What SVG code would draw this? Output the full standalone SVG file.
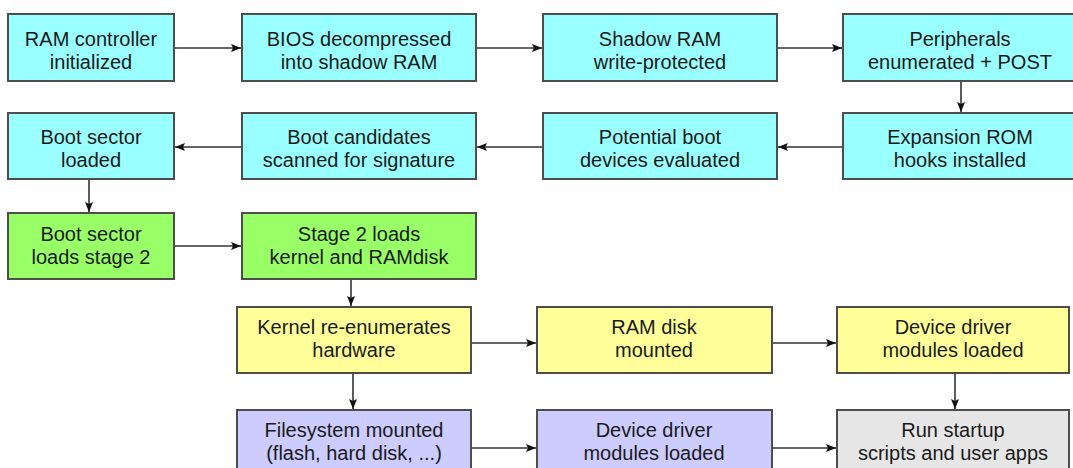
<svg xmlns="http://www.w3.org/2000/svg" width="1073" height="468" viewBox="0 0 1073 468">
<defs>
<marker id="ah" markerWidth="10" markerHeight="8" refX="10" refY="4" orient="auto" markerUnits="userSpaceOnUse">
<path d="M0,0 L10,4 L0,8 L2,4 Z" fill="#111"/>
</marker>
<style>
.box{stroke:#4d4d4d;stroke-width:2}
.c{fill:#99ffff}.g{fill:#99ff66}.y{fill:#ffff99}.l{fill:#ccccff}.k{fill:#e6e6e6}
text{font-family:"Liberation Sans",Arial,sans-serif;font-size:20px;fill:#1a1a1a;text-anchor:middle}
.con line{stroke:#333;stroke-width:1.6;marker-end:url(#ah)}
</style>
</defs>
<rect width="1073" height="468" fill="#fff"/>
<g id="n1"><rect class="box c" x="8" y="14" width="166" height="67"/><text x="91" y="46">RAM controller</text><text x="91" y="69">initialized</text></g>
<g id="n2"><rect class="box c" x="242" y="14" width="234" height="67"/><text x="359" y="46">BIOS decompressed</text><text x="359" y="69">into shadow RAM</text></g>
<g id="n3"><rect class="box c" x="543" y="14" width="234" height="67"/><text x="660" y="46">Shadow RAM</text><text x="660" y="69">write-protected</text></g>
<g id="n4"><rect class="box c" x="843" y="14" width="234" height="67"/><text x="960" y="46">Peripherals</text><text x="960" y="69">enumerated + POST</text></g>
<g id="n5"><rect class="box c" x="843" y="113" width="234" height="66"/><text x="960" y="144">Expansion ROM</text><text x="960" y="167">hooks installed</text></g>
<g id="n6"><rect class="box c" x="543" y="113" width="234" height="66"/><text x="660" y="144">Potential boot</text><text x="660" y="167">devices evaluated</text></g>
<g id="n7"><rect class="box c" x="242" y="113" width="234" height="66"/><text x="359" y="144">Boot candidates</text><text x="359" y="167">scanned for signature</text></g>
<g id="n8"><rect class="box c" x="8" y="113" width="166" height="66"/><text x="91" y="144">Boot sector</text><text x="91" y="167">loaded</text></g>
<g id="n9"><rect class="box g" x="8" y="213" width="166" height="66"/><text x="91" y="241">Boot sector</text><text x="91" y="264">loads stage 2</text></g>
<g id="n10"><rect class="box g" x="242" y="213" width="234" height="66"/><text x="359" y="241">Stage 2 loads</text><text x="359" y="264">kernel and RAMdisk</text></g>
<g id="n11"><rect class="box y" x="237" y="307" width="234" height="66"/><text x="354" y="334">Kernel re-enumerates</text><text x="354" y="357">hardware</text></g>
<g id="n12"><rect class="box y" x="537" y="307" width="235" height="66"/><text x="654" y="334">RAM disk</text><text x="654" y="357">mounted</text></g>
<g id="n13"><rect class="box y" x="837" y="307" width="232" height="66"/><text x="953" y="334">Device driver</text><text x="953" y="357">modules loaded</text></g>
<g id="n14"><rect class="box l" x="237" y="410" width="234" height="70"/><text x="354" y="437">Filesystem mounted</text><text x="354" y="460">(flash, hard disk, ...)</text></g>
<g id="n15"><rect class="box l" x="537" y="410" width="235" height="70"/><text x="654" y="437">Device driver</text><text x="654" y="460">modules loaded</text></g>
<g id="n16"><rect class="box k" x="837" y="410" width="232" height="70"/><text x="953" y="437">Run startup</text><text x="953" y="460">scripts and user apps</text></g>
<g id="connectors" class="con">
<line x1="175" y1="48" x2="241" y2="48"/>
<line x1="477" y1="48" x2="542" y2="48"/>
<line x1="778" y1="48" x2="842" y2="48"/>
<line x1="961" y1="82" x2="961" y2="112"/>
<line x1="842" y1="147" x2="778" y2="147"/>
<line x1="542" y1="147" x2="477" y2="147"/>
<line x1="241" y1="147" x2="175" y2="147"/>
<line x1="89" y1="180" x2="89" y2="212"/>
<line x1="175" y1="246" x2="241" y2="246"/>
<line x1="351" y1="280" x2="351" y2="306"/>
<line x1="472" y1="343" x2="536" y2="343"/>
<line x1="773" y1="343" x2="836" y2="343"/>
<line x1="353" y1="374" x2="353" y2="409"/>
<line x1="955" y1="374" x2="955" y2="409"/>
<line x1="472" y1="448" x2="536" y2="448"/>
<line x1="773" y1="448" x2="836" y2="448"/>
</g>
</svg>
